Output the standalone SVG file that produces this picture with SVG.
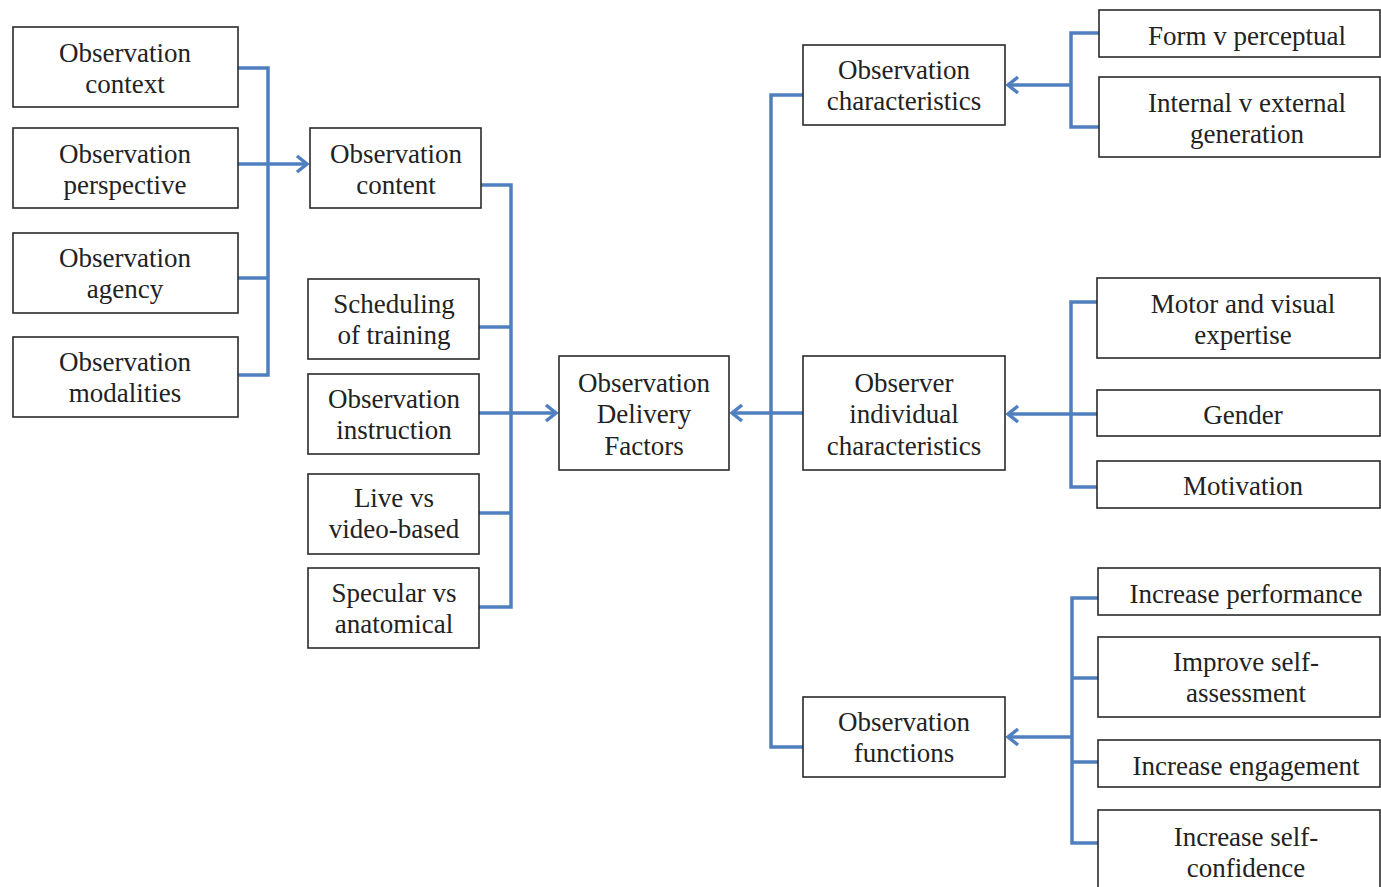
<svg xmlns="http://www.w3.org/2000/svg" width="1381" height="887" viewBox="0 0 1381 887">
  <style>
    .box { fill: #ffffff; stroke: #2a2a2a; stroke-width: 1.6; }
    .lbl { font-family: "Liberation Serif", "Times New Roman", serif; font-size: 27px; fill: #222222; text-anchor: middle; }
    .wire { fill: none; stroke: #4f7fbf; stroke-width: 3.5; stroke-linejoin: miter; }
  </style>
  <defs>
    <marker id="head" markerUnits="userSpaceOnUse" markerWidth="20" markerHeight="20" refX="0" refY="0" viewBox="-12 -10 14 20" orient="auto">
      <path d="M -10 -8 L 0 0 L -10 8" fill="none" stroke="#4f7fbf" stroke-width="3.5" stroke-linejoin="miter"/>
    </marker>
  </defs>
  <rect width="1381" height="887" fill="#ffffff"/>

  <!-- connectors -->
  <g id="connectors">
    <!-- left column into observation content -->
    <path class="wire" d="M238 68 H268 V375 H238"/>
    <path class="wire" d="M238 278 H268"/>
    <path class="wire" d="M238 164 H307" marker-end="url(#head)"/>
    <!-- middle column into delivery factors -->
    <path class="wire" d="M481 185 H511 V607 H479"/>
    <path class="wire" d="M479 327 H511"/>
    <path class="wire" d="M479 513 H511"/>
    <path class="wire" d="M479 413 H556" marker-end="url(#head)"/>
    <!-- right trunk into delivery factors -->
    <path class="wire" d="M803 95 H771 V747 H803"/>
    <path class="wire" d="M803 413 H732" marker-end="url(#head)"/>
    <!-- characteristics branch -->
    <path class="wire" d="M1099 33 H1071 V127 H1099"/>
    <path class="wire" d="M1071 85 H1008" marker-end="url(#head)"/>
    <!-- individual characteristics branch -->
    <path class="wire" d="M1097 302 H1071 V487 H1097"/>
    <path class="wire" d="M1097 414 H1008" marker-end="url(#head)"/>
    <!-- functions branch -->
    <path class="wire" d="M1098 598 H1072 V843 H1098"/>
    <path class="wire" d="M1072 678 H1098"/>
    <path class="wire" d="M1072 762 H1098"/>
    <path class="wire" d="M1072 737 H1008" marker-end="url(#head)"/>
  </g>

  <!-- left column -->
  <g id="obs-context">
    <rect class="box" x="13" y="27" width="225" height="80"/>
    <text class="lbl" x="125" y="62">Observation</text>
    <text class="lbl" x="125" y="93">context</text>
  </g>
  <g id="obs-perspective">
    <rect class="box" x="13" y="128" width="225" height="80"/>
    <text class="lbl" x="125" y="163">Observation</text>
    <text class="lbl" x="125" y="194">perspective</text>
  </g>
  <g id="obs-agency">
    <rect class="box" x="13" y="233" width="225" height="80"/>
    <text class="lbl" x="125" y="267">Observation</text>
    <text class="lbl" x="125" y="298">agency</text>
  </g>
  <g id="obs-modalities">
    <rect class="box" x="13" y="337" width="225" height="80"/>
    <text class="lbl" x="125" y="371">Observation</text>
    <text class="lbl" x="125" y="402">modalities</text>
  </g>

  <!-- middle column -->
  <g id="obs-content">
    <rect class="box" x="310" y="128" width="171" height="80"/>
    <text class="lbl" x="396" y="163">Observation</text>
    <text class="lbl" x="396" y="194">content</text>
  </g>
  <g id="scheduling">
    <rect class="box" x="308" y="279" width="171" height="80"/>
    <text class="lbl" x="394" y="313">Scheduling</text>
    <text class="lbl" x="394" y="344">of training</text>
  </g>
  <g id="obs-instruction">
    <rect class="box" x="308" y="374" width="171" height="80"/>
    <text class="lbl" x="394" y="408">Observation</text>
    <text class="lbl" x="394" y="439">instruction</text>
  </g>
  <g id="live-video">
    <rect class="box" x="308" y="474" width="171" height="80"/>
    <text class="lbl" x="394" y="507">Live vs</text>
    <text class="lbl" x="394" y="538">video-based</text>
  </g>
  <g id="specular-anatomical">
    <rect class="box" x="308" y="568" width="171" height="80"/>
    <text class="lbl" x="394" y="602">Specular vs</text>
    <text class="lbl" x="394" y="633">anatomical</text>
  </g>

  <!-- centre -->
  <g id="delivery-factors">
    <rect class="box" x="559" y="356" width="170" height="114"/>
    <text class="lbl" x="644" y="392">Observation</text>
    <text class="lbl" x="644" y="423">Delivery</text>
    <text class="lbl" x="644" y="455">Factors</text>
  </g>

  <!-- second-level right column -->
  <g id="obs-characteristics">
    <rect class="box" x="803" y="45" width="202" height="80"/>
    <text class="lbl" x="904" y="79">Observation</text>
    <text class="lbl" x="904" y="110">characteristics</text>
  </g>
  <g id="observer-individual">
    <rect class="box" x="803" y="356" width="202" height="114"/>
    <text class="lbl" x="904" y="392">Observer</text>
    <text class="lbl" x="904" y="423">individual</text>
    <text class="lbl" x="904" y="455">characteristics</text>
  </g>
  <g id="obs-functions">
    <rect class="box" x="803" y="697" width="202" height="80"/>
    <text class="lbl" x="904" y="731">Observation</text>
    <text class="lbl" x="904" y="762">functions</text>
  </g>

  <!-- far right column -->
  <g id="form-perceptual">
    <rect class="box" x="1099" y="10" width="281" height="47"/>
    <text class="lbl" x="1247" y="45">Form v perceptual</text>
  </g>
  <g id="internal-external">
    <rect class="box" x="1099" y="77" width="281" height="80"/>
    <text class="lbl" x="1247" y="112">Internal v external</text>
    <text class="lbl" x="1247" y="143">generation</text>
  </g>
  <g id="motor-visual">
    <rect class="box" x="1097" y="278" width="283" height="80"/>
    <text class="lbl" x="1243" y="313">Motor and visual</text>
    <text class="lbl" x="1243" y="344">expertise</text>
  </g>
  <g id="gender">
    <rect class="box" x="1097" y="390" width="283" height="46"/>
    <text class="lbl" x="1243" y="424">Gender</text>
  </g>
  <g id="motivation">
    <rect class="box" x="1097" y="461" width="283" height="47"/>
    <text class="lbl" x="1243" y="495">Motivation</text>
  </g>
  <g id="increase-performance">
    <rect class="box" x="1098" y="568" width="282" height="47"/>
    <text class="lbl" x="1246" y="603">Increase performance</text>
  </g>
  <g id="improve-self-assessment">
    <rect class="box" x="1098" y="637" width="282" height="80"/>
    <text class="lbl" x="1246" y="671">Improve self-</text>
    <text class="lbl" x="1246" y="702">assessment</text>
  </g>
  <g id="increase-engagement">
    <rect class="box" x="1098" y="740" width="282" height="47"/>
    <text class="lbl" x="1246" y="775">Increase engagement</text>
  </g>
  <g id="increase-self-confidence">
    <rect class="box" x="1098" y="810" width="282" height="80"/>
    <text class="lbl" x="1246" y="846">Increase self-</text>
    <text class="lbl" x="1246" y="877">confidence</text>
  </g>
</svg>
